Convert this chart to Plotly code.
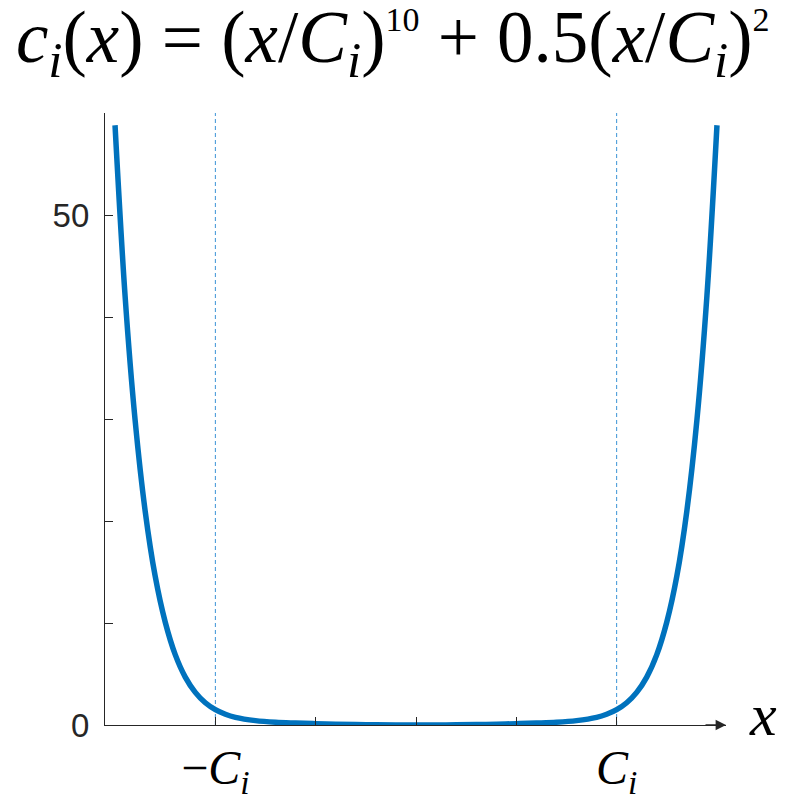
"""Penalty curve c_i(x) with the +/- C_i bounds marked."""

import plotly.graph_objects as go

# x in units of C_i
x_vals = [-1.5, -1.45, -1.4, -1.35, -1.3, -1.25, -1.2, -1.15, -1.1, -1.05,
          -1.0, -0.95, -0.9, -0.8, -0.7, -0.6, -0.5, -0.4, -0.3, -0.2, -0.1,
          0.0,
          0.1, 0.2, 0.3, 0.4, 0.5, 0.6, 0.7, 0.8, 0.9, 0.95,
          1.0, 1.05, 1.1, 1.15, 1.2, 1.25, 1.3, 1.35, 1.4, 1.45, 1.5]
c_vals = [58.8, 42.1, 29.9, 21.0, 14.6, 10.1, 6.9, 4.7, 3.2, 2.18,
          1.5, 1.05, 0.75, 0.43, 0.27, 0.19, 0.13, 0.08, 0.045, 0.02, 0.005,
          0.0,
          0.005, 0.02, 0.045, 0.08, 0.13, 0.19, 0.27, 0.43, 0.75, 1.05,
          1.5, 2.18, 3.2, 4.7, 6.9, 10.1, 14.6, 21.0, 29.9, 42.1, 58.8]

bound_x = [-1.0, 1.0]
x_ticks = [-1.0, -0.5, 0.0, 0.5, 1.0]
x_ticktext = ["\u2212<i>C</i><sub><i>i</i></sub>", "", "", "", "<i>C</i><sub><i>i</i></sub>"]
y_ticks = [0, 10, 20, 30, 40, 50, 60]
y_ticktext = ["0", "", "", "", "", "50", ""]

BLUE = "#0072BD"
AXIS = "#262626"
SERIF = "Liberation Serif"

fig = go.Figure()

for bx in bound_x:
    fig.add_vline(x=bx, line=dict(color="#3b93d6", width=1, dash="4px,3px"), layer="below")

fig.add_trace(go.Scatter(x=x_vals, y=c_vals, mode="lines",
                         line=dict(color=BLUE, width=5.5, shape="spline"),
                         showlegend=False, hoverinfo="skip"))

fig.update_xaxes(range=[-1.55, 1.545], showgrid=False, zeroline=False,
                 showline=True, linecolor=AXIS, linewidth=1.3,
                 ticks="inside", ticklen=8, tickwidth=1.3, tickcolor=AXIS,
                 tickvals=x_ticks, ticktext=x_ticktext, automargin=False,
                 tickfont=dict(family=SERIF, size=48, color="black"))
fig.update_yaxes(range=[0, 60], showgrid=False, zeroline=False,
                 showline=True, linecolor=AXIS, linewidth=1.3,
                 ticks="inside", ticklen=8, tickwidth=1.3, tickcolor=AXIS,
                 tickvals=y_ticks, ticktext=y_ticktext, automargin=False,
                 ticklabelstandoff=8,
                 tickfont=dict(family="Liberation Sans", size=33, color=AXIS))

# arrow head at the end of the x axis
fig.add_annotation(x=1.545, y=0, xref="x", yref="y", ax=-22, ay=0,
                   showarrow=True, arrowhead=2, arrowsize=1.6, arrowwidth=1.3,
                   arrowcolor=AXIS, text="")
fig.add_annotation(x=1.06, y=0.017, xref="paper", yref="paper",
                   text="<i>x</i>", showarrow=False, xanchor="center", yanchor="middle",
                   font=dict(family=SERIF, size=60, color="black"))

sup = '<sup><span style="font-size:34px">{}</span></sup>'
title_text = ("<i>c</i><sub><i>i</i></sub>(<i>x</i>) = (<i>x</i>/<i>C</i><sub><i>i</i></sub>)"
              + sup.format("10")
              + " + 0.5(<i>x</i>/<i>C</i><sub><i>i</i></sub>)"
              + sup.format("2"))

# page body adds an 8px offset, so the figure is 8px smaller than the window
fig.update_layout(
    width=782, height=791,
    margin=dict(l=97, r=64, t=105, b=74, autoexpand=False),
    paper_bgcolor="white", plot_bgcolor="white",
    title=dict(text=title_text,
               xref="container", x=0.492, xanchor="center",
               yref="container", y=0.964, yanchor="middle",
               font=dict(family=SERIF, size=73, color="black")),
)

fig.write_html("out.html")
